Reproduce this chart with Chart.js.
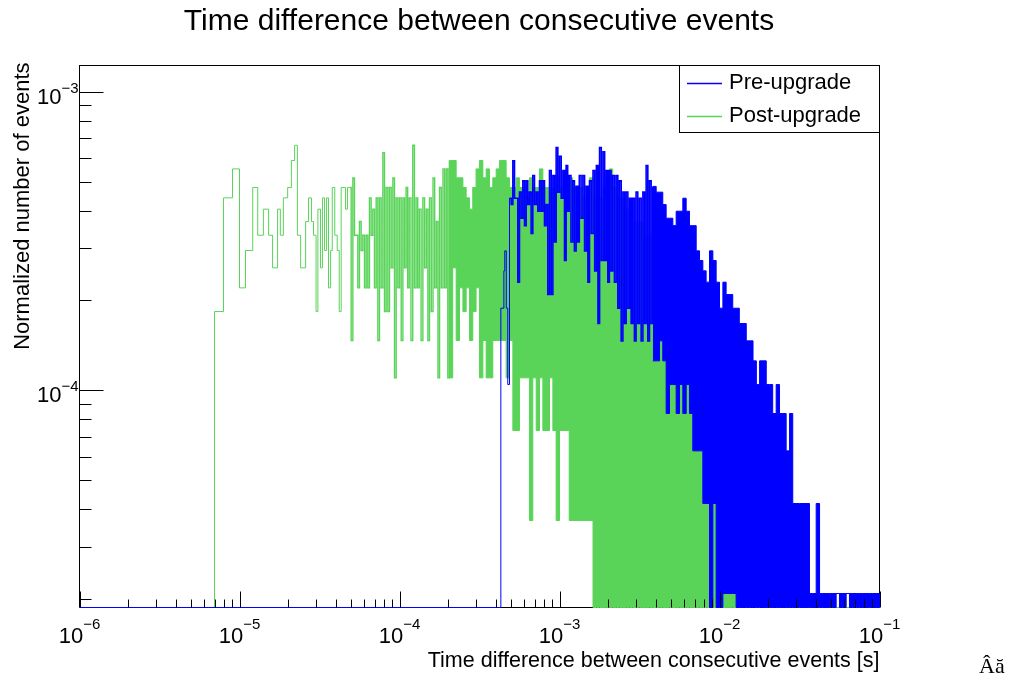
<!DOCTYPE html>
<html>
<head>
<meta charset="utf-8">
<script src="https://cdn.jsdelivr.net/npm/chart.js@4.4.1/dist/chart.umd.min.js"></script>
<style>
  html, body { margin: 0; padding: 0; background: #fff; }
  #wrap { width: 1027px; height: 680px; position: relative; }
</style>
</head>
<body>
<div id="wrap"><canvas id="timeChart"></canvas></div>
<script>
// axis ranges and tick labels
const xMin = 1e-6, xMax = 1e-1;
const yMin = 1.88e-5, yMax = 1.222e-3;
const xDecades = [1e-6, 1e-5, 1e-4, 1e-3, 1e-2, 1e-1];
const xExponents = ['\u22126', '\u22125', '\u22124', '\u22123', '\u22122', '\u22121'];
const yDecades = [1e-5, 1e-4, 1e-3];
const yExponents = ['\u22125', '\u22124', '\u22123'];

const seriesNames = ['Pre-upgrade', 'Post-upgrade'];
const preColor = '#0000ff';
const postColor = '#59d459';

// normalisation (1 / entries) of each histogram
const preNorm = 2.094e-5;
const postNorm = 3.674e-5;

// ---- Post-upgrade: resolved bins (low edge [s], counts)
const postBinEdges = [
  1e-6, 6.98e-6, 7.94e-6, 9.04e-6, 1.00e-5, 1.09e-5, 1.21e-5, 1.30e-5, 1.41e-5, 1.52e-5,
  1.61e-5, 1.73e-5, 1.80e-5, 1.88e-5, 2.00e-5, 2.11e-5, 2.21e-5, 2.30e-5, 2.41e-5, 2.59e-5,
  2.70e-5, 2.82e-5, 2.90e-5, 3.01e-5, 3.09e-5, 3.21e-5, 3.30e-5, 3.40e-5, 3.50e-5, 3.60e-5,
  3.71e-5, 3.80e-5, 3.94e-5, 4.08e-5, 4.20e-5, 4.32e-5, 4.60e-5, 4.73e-5
];
const postBinCounts = [
  0, 5, 12, 15, 6, 8, 13, 9, 11, 9,
  7, 11, 9, 12, 13, 16, 18, 9, 7, 10,
  12, 10, 9, 5, 11, 7, 12, 8, 12, 6,
  8, 13, 9, 8, 5, 13, 11, 13
];

// ---- Post-upgrade: crowded region, cells (edges [s]) with max / min counts
const postCellEdges = [
  4.87e-5, 5.11e-5, 5.36e-5, 5.62e-5, 5.90e-5, 6.19e-5, 6.49e-5, 6.81e-5, 7.15e-5, 7.50e-5, 7.87e-5, 8.25e-5, 8.66e-5, 9.09e-5, 9.53e-5,
  1.00e-4, 1.05e-4, 1.10e-4, 1.15e-4, 1.21e-4, 1.27e-4, 1.33e-4, 1.40e-4, 1.47e-4, 1.54e-4, 1.62e-4, 1.70e-4, 1.78e-4, 1.87e-4, 1.96e-4, 2.05e-4,
  2.15e-4, 2.26e-4, 2.37e-4, 2.49e-4, 2.61e-4, 2.74e-4, 2.87e-4, 3.01e-4, 3.16e-4, 3.32e-4, 3.48e-4, 3.65e-4, 3.83e-4, 4.02e-4, 4.22e-4, 4.42e-4,
  4.64e-4, 4.87e-4, 5.11e-4, 5.36e-4, 5.62e-4, 5.90e-4, 6.19e-4, 6.49e-4, 6.81e-4, 7.15e-4, 7.50e-4, 7.87e-4, 8.25e-4, 8.66e-4, 9.09e-4, 9.53e-4,
  1.00e-3, 1.05e-3, 1.10e-3, 1.15e-3, 1.21e-3, 1.27e-3, 1.33e-3, 1.40e-3, 1.47e-3, 1.54e-3, 1.62e-3, 1.70e-3, 1.78e-3, 1.87e-3, 1.96e-3, 2.05e-3,
  2.15e-3, 2.26e-3, 2.37e-3, 2.49e-3, 2.61e-3, 2.74e-3, 2.87e-3, 3.01e-3, 3.16e-3, 3.32e-3, 3.48e-3, 3.65e-3, 3.83e-3, 4.02e-3, 4.22e-3, 4.42e-3,
  4.64e-3, 4.87e-3, 5.11e-3, 5.36e-3, 5.62e-3, 5.90e-3, 6.19e-3, 6.49e-3, 6.81e-3, 7.15e-3, 7.50e-3, 7.87e-3, 8.25e-3, 8.66e-3, 9.09e-3, 9.53e-3,
  1.00e-2, 1.05e-2, 1.10e-2, 1.15e-2, 1.21e-2, 1.27e-2, 1.33e-2
];
const postCellMax = [
  13, 14, 9, 10, 9, 9, 12, 11, 12, 12, 17, 13, 13, 14, 12,
  12, 12, 13, 12, 18, 12, 11, 12, 11, 12, 14, 10, 13, 15, 15,
  16, 16, 14, 14, 13, 12, 11, 13, 15, 16, 14, 15, 13, 14, 15, 16,
  16, 14, 13, 13, 14, 13, 13, 12, 14, 13, 13, 15, 13, 13, 13, 13, 14,
  13, 12, 13, 14, 13, 12, 13, 12, 13, 14, 12, 13, 12, 13, 14, 15,
  13, 12, 12, 11, 11, 11, 10, 10, 10, 9, 9, 9, 8, 8, 8, 8,
  7, 7, 7, 6, 6, 6, 6, 5, 5, 5, 4, 4, 4, 3, 3, 3,
  3, 2, 2, 2, 2, 1
];
const postCellMin = [
  4, 9, 6, 8, 6, 6, 9, 6, 4, 6, 5, 5, 7, 3, 6,
  4, 7, 6, 4, 6, 6, 4, 7, 4, 5, 6, 3, 6, 6, 3,
  3, 7, 4, 6, 5, 6, 4, 5, 6, 3, 4, 3, 3, 4, 4, 4,
  4, 3, 4, 2, 2, 3, 3, 3, 1, 3, 2, 3, 2, 2, 3, 2, 1,
  2, 2, 2, 1, 1, 1, 1, 1, 1, 1, 0, 0, 0, 0, 0, 0,
  0, 0, 0, 0, 0, 0, 0, 0, 0, 0, 0, 0, 0, 0, 0, 0,
  0, 0, 0, 0, 0, 0, 0, 0, 0, 0, 0, 0, 0, 0, 0, 0,
  0, 0, 0, 0, 0, 0
];
const postSolidFrom = 2.05e-4;   // cells from here on are packed solid

// ---- Pre-upgrade: resolved bins
const preBinEdges = [1e-6, 4.30e-4, 4.49e-4, 4.55e-4, 4.65e-4, 4.75e-4];
const preBinCounts = [0, 9, 12, 14, 9, 5];

// ---- Pre-upgrade: crowded region
const preCellEdges = [
  4.87e-4, 5.11e-4, 5.36e-4, 5.62e-4, 5.90e-4, 6.19e-4, 6.49e-4, 6.81e-4, 7.15e-4, 7.50e-4, 7.87e-4, 8.25e-4, 8.66e-4, 9.09e-4, 9.53e-4,
  1.00e-3, 1.05e-3, 1.10e-3, 1.15e-3, 1.21e-3, 1.27e-3, 1.33e-3, 1.40e-3, 1.47e-3, 1.54e-3, 1.62e-3, 1.70e-3, 1.78e-3, 1.87e-3, 1.96e-3, 2.05e-3,
  2.15e-3, 2.26e-3, 2.37e-3, 2.49e-3, 2.61e-3, 2.74e-3, 2.87e-3, 3.01e-3, 3.16e-3, 3.32e-3, 3.48e-3, 3.65e-3, 3.83e-3, 4.02e-3, 4.22e-3, 4.42e-3,
  4.64e-3, 4.87e-3, 5.11e-3, 5.36e-3, 5.62e-3, 5.90e-3, 6.19e-3, 6.49e-3, 6.81e-3, 7.15e-3, 7.50e-3, 7.87e-3, 8.25e-3, 8.66e-3, 9.09e-3, 9.53e-3,
  1.00e-2, 1.05e-2, 1.10e-2, 1.15e-2, 1.21e-2, 1.27e-2, 1.33e-2, 1.40e-2, 1.47e-2, 1.54e-2, 1.62e-2, 1.70e-2, 1.78e-2, 1.87e-2, 1.96e-2, 2.05e-2,
  2.15e-2, 2.26e-2, 2.37e-2, 2.49e-2, 2.61e-2, 2.74e-2, 2.87e-2, 3.01e-2, 3.16e-2, 3.32e-2, 3.48e-2, 3.65e-2, 3.83e-2, 4.02e-2, 4.22e-2, 4.42e-2,
  4.64e-2, 4.87e-2, 5.11e-2, 5.36e-2, 5.62e-2, 5.90e-2, 6.19e-2, 6.49e-2, 6.81e-2, 7.15e-2, 7.50e-2, 7.87e-2, 8.25e-2, 8.66e-2, 9.09e-2, 9.53e-2,
  1.00e-1
];
const preCellMax = [
  21, 28, 21, 22, 24, 24, 22, 25, 22, 24, 24, 20, 26, 25, 31,
  29, 26, 27, 25, 24, 23, 25, 25, 23, 24, 26, 27, 31, 30, 26, 26,
  25, 25, 24, 22, 22, 21, 21, 22, 21, 22, 27, 24, 23, 22, 22, 20,
  18, 18, 17, 19, 19, 21, 19, 17, 17, 14, 13, 12, 11, 14, 13, 11,
  9, 11, 10, 10, 9, 9, 8, 8, 7, 7, 6, 5, 6, 6, 5, 5,
  4, 5, 4, 4, 3, 4, 2, 2, 2, 2, 2, 1, 1, 2, 1, 1,
  1, 1, 1, 1, 1, 1, 1, 1, 1, 1, 1, 1, 1, 1, 1, 1
];
const preCellMin = [
  20, 21, 11, 18, 17, 20, 16, 20, 19, 19, 17, 10, 10, 15, 22,
  21, 13, 19, 15, 14, 15, 18, 14, 11, 16, 12, 8, 13, 13, 11, 12,
  11, 9, 7, 8, 9, 8, 7, 8, 7, 8, 7, 8, 6, 6, 7, 6,
  4, 5, 5, 4, 5, 4, 5, 4, 3, 3, 3, 2, 2, 0, 2, 0,
  0, 1, 1, 1, 1, 0, 0, 0, 0, 0, 0, 0, 0, 0, 0, 0,
  0, 0, 0, 0, 0, 0, 0, 0, 0, 0, 0, 0, 0, 0, 0, 0,
  0, 0, 0, 1, 0, 0, 1, 0, 0, 0, 0, 0, 0, 0, 0, 0
];
const preSolidFrom = 3.83e-3;

// each point's value holds until the next point (histogram low edges)
const STEP = 'before';
const FONT = '"Liberation Sans", Arial, Helvetica, sans-serif';

// empty bins sit on the bottom of the frame, as in ROOT
function val(n, norm) {
  return n > 0 ? n * norm : yMin;
}

function resolvedPoints(edges, counts, cellEdges, cellMax, norm) {
  const pts = edges.map((x, i) => ({ x: x, y: val(counts[i], norm) }));
  pts.push({ x: cellEdges[0], y: val(cellMax[0], norm) });
  return pts;
}

// half-resolved cells: the line swings between cell max and cell min
function zigzagPoints(cellEdges, cellMax, cellMin, solidFrom, norm) {
  const pts = [];
  let i = 0;
  for (; i < cellMax.length && cellEdges[i] < solidFrom; i++) {
    pts.push({ x: cellEdges[i], y: val(cellMax[i], norm) });
    pts.push({ x: Math.sqrt(cellEdges[i] * cellEdges[i + 1]), y: val(cellMin[i], norm) });
  }
  pts.push({ x: cellEdges[i], y: val(cellMax[i], norm) });
  return pts;
}

// packed cells: outer envelope, the band between max and min is filled
function envelopePoints(cellEdges, counts, solidFrom, norm) {
  const pts = [];
  for (let i = 0; i < counts.length; i++) {
    if (cellEdges[i] < solidFrom) continue;
    pts.push({ x: cellEdges[i], y: val(counts[i], norm) });
  }
  pts.push({ x: cellEdges[counts.length], y: yMin });
  pts.push({ x: xMax, y: yMin });
  return pts;
}

const common = {
  stepped: STEP,
  borderWidth: 1,
  pointRadius: 0,
  pointHoverRadius: 0,
  tension: 0,
  fill: false,
  clip: 2
};

const datasets = [
  { ...common, label: seriesNames[0], order: 1, borderColor: preColor,
    data: resolvedPoints(preBinEdges, preBinCounts, preCellEdges, preCellMax, preNorm) },
  { ...common, label: seriesNames[0], order: 1, borderColor: preColor, borderWidth: 1.6,
    data: zigzagPoints(preCellEdges, preCellMax, preCellMin, preSolidFrom, preNorm) },
  { ...common, label: seriesNames[0], order: 1, borderColor: preColor, backgroundColor: preColor, fill: '+1',
    data: envelopePoints(preCellEdges, preCellMax, preSolidFrom, preNorm) },
  { ...common, label: seriesNames[0], order: 1, borderColor: preColor,
    data: envelopePoints(preCellEdges, preCellMin, preSolidFrom, preNorm) },

  { ...common, label: seriesNames[1], order: 2, borderColor: postColor,
    data: resolvedPoints(postBinEdges, postBinCounts, postCellEdges, postCellMax, postNorm) },
  { ...common, label: seriesNames[1], order: 2, borderColor: postColor, borderWidth: 1.4,
    data: zigzagPoints(postCellEdges, postCellMax, postCellMin, postSolidFrom, postNorm) },
  { ...common, label: seriesNames[1], order: 2, borderColor: postColor, backgroundColor: postColor, fill: '+1',
    data: envelopePoints(postCellEdges, postCellMax, postSolidFrom, postNorm) },
  { ...common, label: seriesNames[1], order: 2, borderColor: postColor,
    data: envelopePoints(postCellEdges, postCellMin, postSolidFrom, postNorm) }
];

// ROOT-like frame, inward ticks, labels and legend box
const rootStyle = {
  id: 'rootStyle',
  beforeDatasetsDraw(chart) {
    const { ctx, chartArea: a } = chart;
    ctx.save();
    ctx.strokeStyle = '#000';
    ctx.lineWidth = 1;
    ctx.strokeRect(a.left, a.top, a.right - a.left, a.bottom - a.top);
    ctx.restore();
  },
  afterDatasetsDraw(chart) {
    const { ctx, chartArea: a } = chart;
    const xs = chart.scales.x, ys = chart.scales.y;
    ctx.save();
    ctx.strokeStyle = '#000';
    ctx.fillStyle = '#000';
    ctx.lineWidth = 1;

    // x ticks
    ctx.beginPath();
    xDecades.forEach(d => {
      for (let m = 1; m <= 9; m++) {
        const v = d * m;
        if (v < xMin || v > xMax * 1.0001) continue;
        const px = Math.round(xs.getPixelForValue(v)) + 0.5;
        const len = m === 1 ? 16 : 8;
        ctx.moveTo(px, a.bottom);
        ctx.lineTo(px, a.bottom - len);
      }
    });
    // y ticks
    yDecades.forEach(d => {
      for (let m = 1; m <= 9; m++) {
        const v = d * m;
        if (v < yMin || v > yMax) continue;
        const py = Math.round(ys.getPixelForValue(v)) + 0.5;
        const len = m === 1 ? 24 : 12;
        ctx.moveTo(a.left, py);
        ctx.lineTo(a.left + len, py);
      }
    });
    ctx.stroke();

    // x tick labels 10^n
    ctx.textBaseline = 'alphabetic';
    ctx.textAlign = 'left';
    xDecades.forEach((d, i) => {
      const px = xs.getPixelForValue(d);
      ctx.font = '22px ' + FONT;
      const wBase = ctx.measureText('10').width;
      ctx.font = '15px ' + FONT;
      const wExp = ctx.measureText(xExponents[i]).width;
      const x0 = px - (wBase + wExp) / 2;
      ctx.font = '22px ' + FONT;
      ctx.fillText('10', x0, 643);
      ctx.font = '15px ' + FONT;
      ctx.fillText(xExponents[i], x0 + wBase, 629);
    });
    // y tick labels
    yDecades.forEach((d, i) => {
      if (d < yMin) return;
      const py = ys.getPixelForValue(d);
      ctx.font = '15px ' + FONT;
      const wExp = ctx.measureText(yExponents[i]).width;
      const right = a.left - 1;
      ctx.fillText(yExponents[i], right - wExp, py + 1);
      ctx.font = '22px ' + FONT;
      const wBase = ctx.measureText('10').width;
      ctx.fillText('10', right - wExp - wBase, py + 12);
    });

    // titles
    ctx.font = '30px ' + FONT;
    ctx.textAlign = 'center';
    ctx.fillText('Time difference between consecutive events', 479, 30);

    ctx.font = '21.5px ' + FONT;
    ctx.textAlign = 'right';
    ctx.fillText('Time difference between consecutive events [s]', a.right, 667);

    ctx.save();
    ctx.translate(29, a.top - 3);
    ctx.rotate(-Math.PI / 2);
    ctx.font = '22px ' + FONT;
    ctx.textAlign = 'right';
    ctx.fillText('Normalized number of events', 0, 0);
    ctx.restore();

    // legend
    const lx = 679.5, ly = a.top, lw = 200, lh = 67;
    ctx.fillStyle = '#fff';
    ctx.fillRect(lx, ly, lw, lh);
    ctx.strokeStyle = '#000';
    ctx.strokeRect(lx, ly, lw, lh);
    [preColor, postColor].forEach((c, i) => {
      const yy = ly + 17 + i * 33;
      ctx.strokeStyle = c;
      ctx.lineWidth = 1.3;
      ctx.beginPath();
      ctx.moveTo(687, Math.round(yy) + 0.5);
      ctx.lineTo(722, Math.round(yy) + 0.5);
      ctx.stroke();
      ctx.fillStyle = '#000';
      ctx.font = '22px ' + FONT;
      ctx.textAlign = 'left';
      ctx.textBaseline = 'middle';
      ctx.fillText(seriesNames[i], 729, yy);
    });

    // stray characters at the right edge of the original
    ctx.textBaseline = 'alphabetic';
    ctx.font = '22px "Liberation Serif", "Times New Roman", serif';
    ctx.fillText('\u00c2\u0103', 979, 673);
    ctx.restore();
  }
};

new Chart(document.getElementById('timeChart').getContext('2d'), {
  type: 'line',
  data: { datasets: datasets },
  options: {
    responsive: true,
    maintainAspectRatio: false,
    animation: false,
    events: [],
    layout: { padding: { left: 79.5, top: 65.5, right: 147.5, bottom: 72.5 } },
    scales: {
      x: { type: 'logarithmic', min: xMin, max: xMax, display: false },
      y: { type: 'logarithmic', min: yMin, max: yMax, display: false }
    },
    plugins: {
      legend: { display: false },
      tooltip: { enabled: false },
      title: { display: false }
    }
  },
  plugins: [rootStyle]
});
</script>
</body>
</html>
